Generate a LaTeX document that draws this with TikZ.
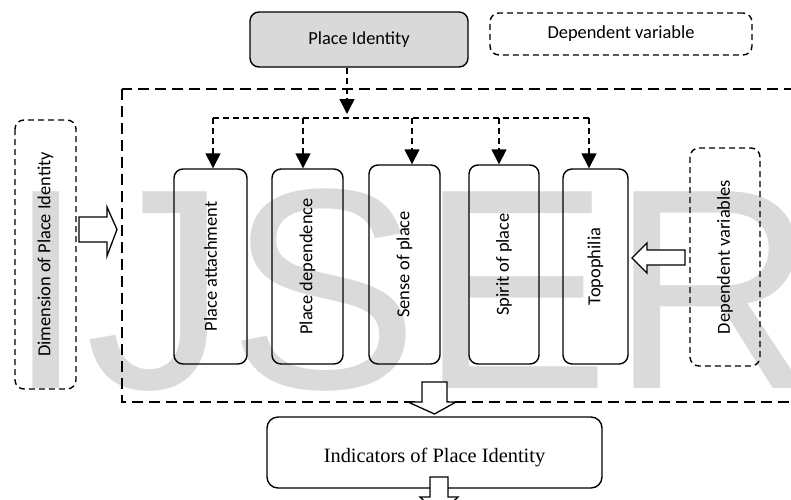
\documentclass[tikz,border=0pt]{standalone}
\usepackage{fontspec}
\setmainfont{Carlito}
\newfontfamily\wmfont{Liberation Sans}
\newfontfamily\indfont{Liberation Serif}
\usetikzlibrary{arrows.meta}
\definecolor{wmgray}{RGB}{218,218,218}
\definecolor{boxgray}{RGB}{217,217,217}
\begin{document}
\begin{tikzpicture}[x=1pt,y=-1pt,
  lbl/.style={font=\fontsize{18.4}{22}\selectfont},
  solidbox/.style={draw, line width=1.4pt, rounded corners=9pt, inner sep=0pt, lbl},
  dbox/.style={draw, line width=1.4pt, rounded corners=9pt, inner sep=0pt, dash pattern=on 6pt off 4pt, lbl},
  vbox/.style={solidbox, rotate=90},
  vdbox/.style={dbox, rotate=90},
  bigdash/.style={line width=1.4pt, dash pattern=on 11pt off 6pt},
  dline/.style={line width=1.4pt, dash pattern=on 6pt off 4pt},
  conn/.style={dline, -{Triangle[length=15pt,width=15pt]}},
  hollow/.style={draw, line width=1.3pt, fill=white, line join=miter}
]
\useasboundingbox (0,0) rectangle (791,499);
\clip (0,0) rectangle (791,499);

% watermark
\node[anchor=base west, inner sep=0pt, text=wmgray, font=\wmfont\fontsize{286}{300}\selectfont] (wm) at (6,388) {IJSER};

% top boxes
\node[solidbox, fill=boxgray, minimum width=218pt, minimum height=55pt] (pi) at (359,39.5) {Place Identity};
\node[dbox, minimum width=262pt, minimum height=42pt] (dv) at (621,34) {Dependent variable};

% frame
\draw[bigdash] (122,89) rectangle (800,402);

% tall boxes
\node[vbox, minimum width=195pt, minimum height=73pt] (b1) at (210.5,266.5) {Place attachment};
\node[vbox, minimum width=195pt, minimum height=71pt] (b2) at (307.5,266.5) {Place dependence};
\node[vbox, minimum width=199pt, minimum height=71pt] (b3) at (404.5,264.5) {Sense of place};
\node[vbox, minimum width=199pt, minimum height=70pt] (b4) at (504,264.5) {Spirit of place};
\node[vbox, minimum width=195pt, minimum height=65pt] (b5) at (595.5,266.5) {Topophilia};

% side boxes
\node[vdbox, minimum width=269pt, minimum height=61pt] (dim) at (45.5,254.5) {Dimension of Place Identity};
\node[vdbox, minimum width=218pt, minimum height=70pt] (dvs) at (725,257) {Dependent variables};

% indicators
\node[solidbox, rounded corners=11pt, minimum width=335pt, minimum height=71pt] (ind) at (434.5,452.5) {};
\node[inner sep=0pt, font=\indfont\fontsize{20.4}{24}\selectfont] (indt) at ([yshift=-5.5pt]ind.center) {Indicators of Place Identity};

% dashed connectors
\coordinate (hub) at (347,118);
\coordinate (d1) at (213,118);
\coordinate (d2) at (303,118);
\coordinate (d3) at (412,118);
\coordinate (d4) at (499,118);
\coordinate (d5) at (589,118);
\draw[conn] (pi.south -| hub) -- ([yshift=4pt]hub);
\draw[dline] (d1) -- (d5);
\draw[conn] (d1) -- (d1 |- b1.east);
\draw[conn] (d2) -- (d2 |- b2.east);
\draw[conn] (d3) -- (d3 |- b3.east);
\draw[conn] (d4) -- (d4 |- b4.east);
\draw[conn] (d5) -- (d5 |- b5.east);

% hollow arrows
\draw[hollow] (79,217) -- (107,217) -- (107,207) -- (117,229.5) -- (107,256) -- (107,242) -- (79,242) -- cycle;
\draw[hollow] (685,250) -- (647,250) -- (647,243) -- (632,258) -- (647,273) -- (647,265) -- (685,265) -- cycle;
\draw[hollow] (422,382) -- (447,382) -- (447,402) -- (456,402) -- (434.5,414) -- (408,402) -- (422,402) -- cycle;
\draw[hollow] (430,477) -- (448,477) -- (448,497) -- (458,497) -- (439,515) -- (420,497) -- (430,497) -- cycle;
\end{tikzpicture}
\end{document}
